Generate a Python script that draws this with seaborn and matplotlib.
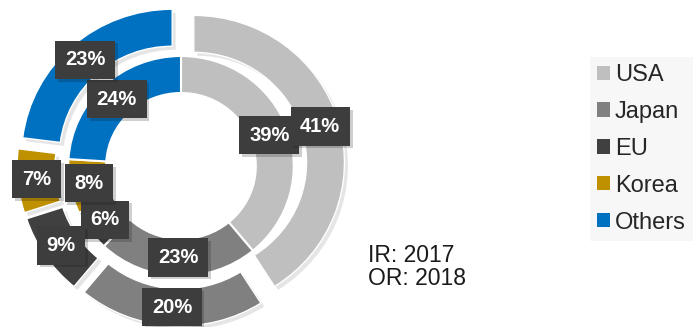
import matplotlib
matplotlib.use("Agg")
import matplotlib.pyplot as plt
import matplotlib.patheffects as pe
import seaborn as sns
import numpy as np
from matplotlib.patches import Patch

categories = ["USA", "Japan", "EU", "Korea", "Others"]
share_2017 = [39, 23, 6, 8, 24]   # inner ring
share_2018 = [41, 20, 9, 7, 23]   # outer ring
colors = ["#BFBFBF", "#808080", "#404040", "#BF9000", "#0070C0"]
ring_notes = ["IR: 2017", "OR: 2018"]

sns.set_style("white")
plt.rcParams["font.family"] = ["Liberation Sans", "DejaVu Sans"]

W, H = 699, 327
SX = 1.025  # slight horizontal stretch as in the reference
fig = plt.figure(figsize=(W / 100, H / 100), dpi=100)
ax = fig.add_axes([0, 0, 1, 1])

cx, cy = 181 / SX, H - 166
R_out, R_in, ring_w = 147, 110, 37
expl = 13

shadow = [pe.SimplePatchShadow(offset=(2.5, -2.5), shadow_rgbFace="#9a9a9a", alpha=0.25), pe.Normal()]
outer = ax.pie(share_2018, radius=R_out, center=(cx, cy), startangle=90,
               counterclock=False, colors=colors, explode=[expl] * len(share_2018),
               wedgeprops=dict(width=ring_w, edgecolor="white", linewidth=1,
                               path_effects=shadow))[0]
inner = ax.pie(share_2017, radius=R_in, center=(cx, cy), startangle=90,
               counterclock=False, colors=colors,
               wedgeprops=dict(width=ring_w, edgecolor="white", linewidth=1.5))[0]

ax.set_aspect("auto")
ax.set_xlim(0, W / SX)
ax.set_ylim(0, H)
ax.axis("off")

box = dict(boxstyle="square,pad=0.48", facecolor="#3D3D3D", edgecolor="none",
           path_effects=[pe.SimplePatchShadow(offset=(2, -2), alpha=0.2), pe.Normal()])
for wedges, vals in ((inner, share_2017), (outer, share_2018)):
    for w, v in zip(wedges, vals):
        ang = np.deg2rad((w.theta1 + w.theta2) / 2)
        rm = w.r - ring_w / 2
        x = w.center[0] + rm * np.cos(ang)
        y = w.center[1] + rm * np.sin(ang)
        ax.text(x, y, f"{v}%", ha="center", va="center", color="white",
                fontsize=14.5, fontweight="bold", bbox=box, zorder=5)

handles = [Patch(facecolor=c, edgecolor="none", label=l) for c, l in zip(colors, categories)]
fig.legend(handles=handles, loc="upper left", bbox_to_anchor=(590 / W, 1 - 57 / H),
           frameon=True, fancybox=False, facecolor="#F7F7F7", edgecolor="none",
           framealpha=1, fontsize=17, handlelength=0.55, handleheight=0.55,
           handletextpad=0.2, labelspacing=0.63, borderpad=0.3, borderaxespad=0)

ax.text(368 / SX, H - 262, ring_notes[0], fontsize=16.5, va="baseline", ha="left", color="#1a1a1a")
ax.text(368 / SX, H - 285, ring_notes[1], fontsize=16.5, va="baseline", ha="left", color="#1a1a1a")

fig.savefig("out.png", dpi=100)
